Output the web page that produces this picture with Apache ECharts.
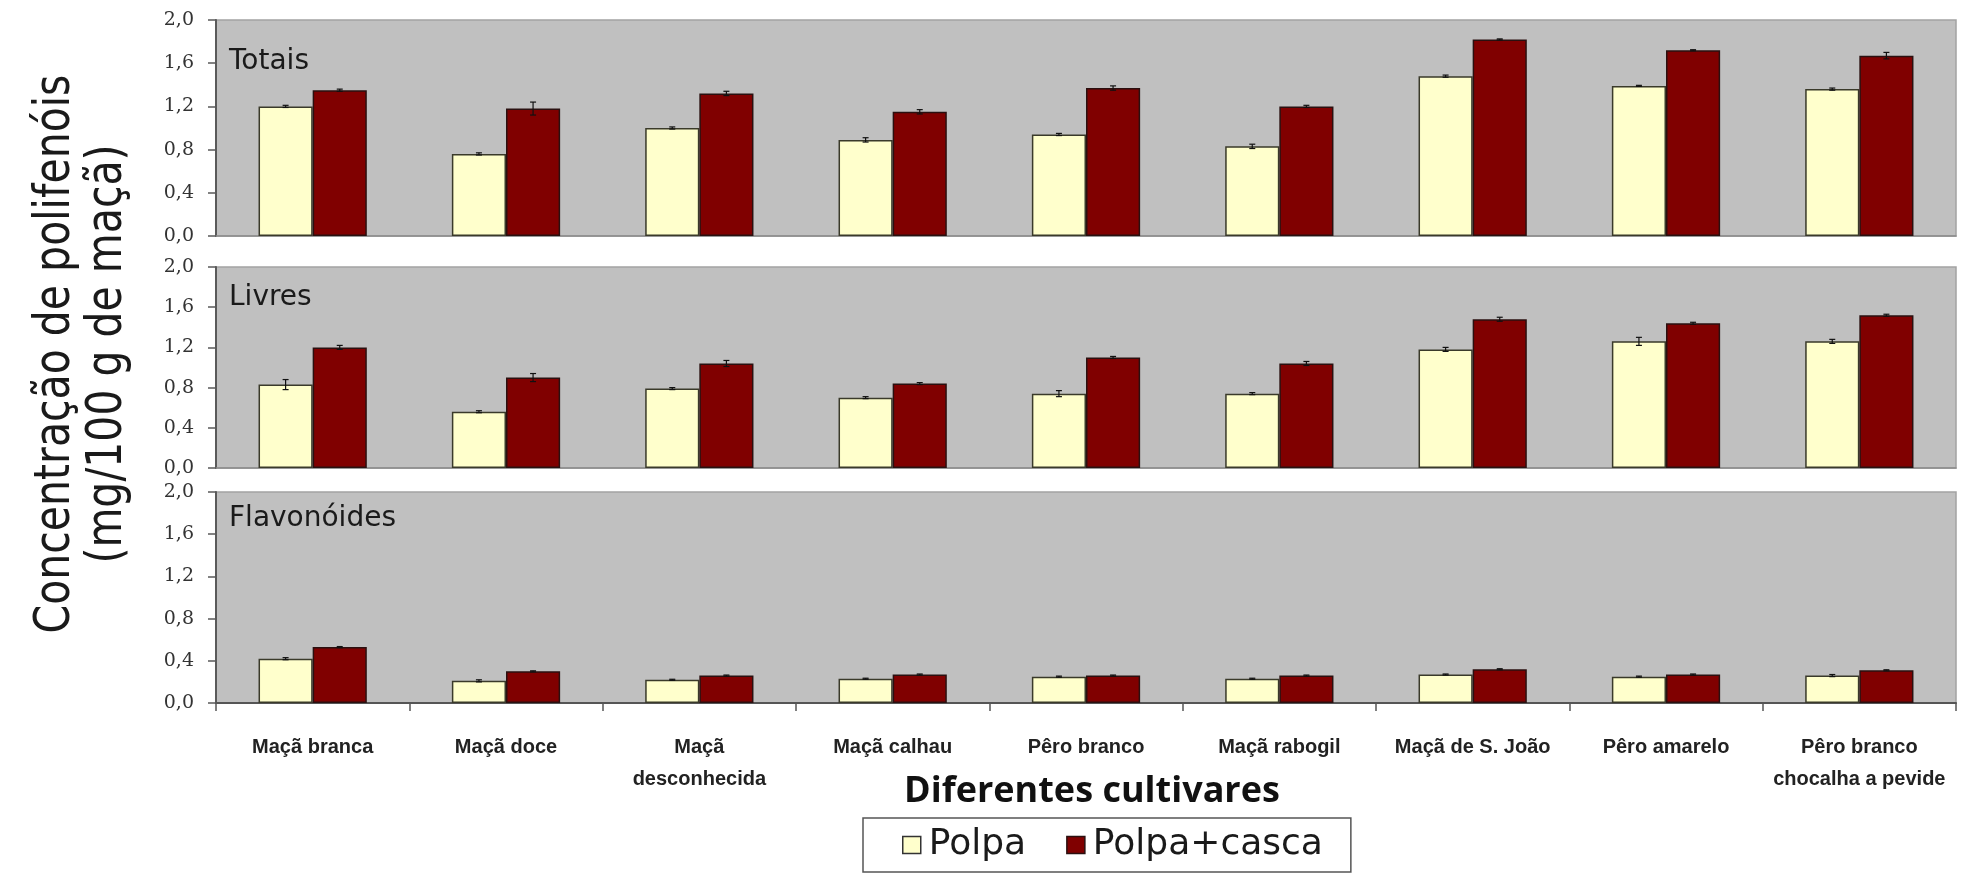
<!DOCTYPE html>
<html>
<head>
<meta charset="utf-8">
<script src="https://cdn.jsdelivr.net/npm/echarts@6/dist/echarts.min.js"></script>
<style>
  html, body { margin: 0; padding: 0; background: #ffffff; }
  #chart { width: 1966px; height: 874px; }
</style>
</head>
<body>
<div id="chart"></div>
<script>
// Cultivares (labels with a line break are drawn on two lines)
const categories = ['Maçã branca', 'Maçã doce', 'Maçã\ndesconhecida', 'Maçã calhau', 'Pêro branco',
  'Maçã rabogil', 'Maçã de S. João', 'Pêro amarelo', 'Pêro branco\nchocalha a pevide'];

const yTicks = [0, 0.4, 0.8, 1.2, 1.6, 2.0];

// Polifenóis totais
const totaisPolpa = [1.20, 0.76, 1.00, 0.89, 0.94, 0.83, 1.48, 1.39, 1.36];
const totaisCasca = [1.35, 1.18, 1.32, 1.15, 1.37, 1.20, 1.82, 1.72, 1.67];
const totaisPolpaErr = [0.01, 0.01, 0.01, 0.02, 0.01, 0.02, 0.01, 0.005, 0.01];
const totaisCascaErr = [0.01, 0.06, 0.02, 0.02, 0.02, 0.01, 0.005, 0.005, 0.03];

// Polifenóis livres
const livresPolpa = [0.83, 0.56, 0.79, 0.70, 0.74, 0.74, 1.18, 1.26, 1.26];
const livresCasca = [1.20, 0.90, 1.04, 0.84, 1.10, 1.04, 1.48, 1.44, 1.52];
const livresPolpaErr = [0.05, 0.01, 0.01, 0.01, 0.03, 0.01, 0.02, 0.04, 0.02];
const livresCascaErr = [0.02, 0.04, 0.03, 0.01, 0.01, 0.02, 0.02, 0.01, 0.01];

// Flavonóides
const flavPolpa = [0.42, 0.21, 0.22, 0.23, 0.25, 0.23, 0.27, 0.25, 0.26];
const flavCasca = [0.53, 0.30, 0.26, 0.27, 0.26, 0.26, 0.32, 0.27, 0.31];
const flavPolpaErr = [0.01, 0.01, 0.005, 0.005, 0.005, 0.005, 0.005, 0.005, 0.01];
const flavCascaErr = [0.005, 0.005, 0.005, 0.005, 0.005, 0.005, 0.005, 0.005, 0.005];

const panelNames = ['Totais', 'Livres', 'Flavonóides'];
const panels = [
  { polpa: totaisPolpa, casca: totaisCasca, polpaErr: totaisPolpaErr, cascaErr: totaisCascaErr },
  { polpa: livresPolpa, casca: livresCasca, polpaErr: livresPolpaErr, cascaErr: livresCascaErr },
  { polpa: flavPolpa, casca: flavCasca, polpaErr: flavPolpaErr, cascaErr: flavCascaErr }
];

const POLPA_COLOR = '#ffffcc';
const CASCA_COLOR = '#800000';
const CAT_GAP = 0.44;                 // barCategoryGap as a fraction
const gridLayout = [
  { top: 20, height: 216 },
  { top: 267, height: 201 },
  { top: 492, height: 211 }
];

const chart = echarts.init(document.getElementById('chart'), null, { renderer: 'canvas' });

const grids = [], xAxes = [], yAxes = [], series = [];

gridLayout.forEach((g, i) => {
  grids.push({
    left: 216, right: 10, top: g.top, height: g.height,
    show: true, backgroundColor: '#c0c0c0', borderColor: '#a2a2a2', borderWidth: 1.5
  });
  const last = i === gridLayout.length - 1;
  xAxes.push({
    type: 'category', gridIndex: i, data: categories,
    axisLine: { show: true, lineStyle: { color: last ? '#555555' : '#8a8a8a', width: last ? 2 : 1.5 } },
    axisTick: { show: last, length: 8, lineStyle: { color: '#555555', width: 1.5 } },
    axisLabel: {
      show: last, interval: 0, margin: 28,
      fontFamily: 'Liberation Sans, Arial, sans-serif', fontWeight: 'bold',
      fontSize: 20, lineHeight: 32, color: '#222222'
    },
    splitLine: { show: false }
  });
  yAxes.push({
    type: 'value', gridIndex: i, min: yTicks[0], max: yTicks[yTicks.length - 1], interval: 0.4,
    axisLine: { show: true, lineStyle: { color: '#5a5a5a', width: 2 } },
    axisTick: { show: true, length: 8, lineStyle: { color: '#5a5a5a', width: 1.5 } },
    axisLabel: {
      margin: 22, fontFamily: 'DejaVu Serif, serif', fontSize: 19, color: '#333333',
      formatter: v => v.toFixed(1).replace('.', ',')
    },
    splitLine: { show: false }
  });

  const p = panels[i];
  series.push({
    name: 'Polpa', type: 'bar', xAxisIndex: i, yAxisIndex: i, data: p.polpa,
    barGap: '0%', barCategoryGap: (CAT_GAP * 100) + '%',
    itemStyle: { color: POLPA_COLOR, borderColor: '#3a3a2a', borderWidth: 1.5 },
    emphasis: { disabled: true }
  });
  series.push({
    name: 'Polpa+casca', type: 'bar', xAxisIndex: i, yAxisIndex: i, data: p.casca,
    barGap: '0%', barCategoryGap: (CAT_GAP * 100) + '%',
    itemStyle: { color: CASCA_COLOR, borderColor: '#2a1010', borderWidth: 1.5 },
    emphasis: { disabled: true }
  });

  // error bars, one custom series per bar series
  [[p.polpa, p.polpaErr, -1], [p.casca, p.cascaErr, 1]].forEach(([vals, errs, side]) => {
    series.push({
      name: 'err', type: 'custom', xAxisIndex: i, yAxisIndex: i, z: 5, silent: true,
      data: vals.map((v, k) => [k, v, errs[k]]),
      encode: { x: 0, y: 1 },
      renderItem: (params, api) => {
        const idx = api.value(0), v = api.value(1), e = api.value(2);
        const band = api.size([1, 0])[0];
        const barW = band * (1 - CAT_GAP) / 2;
        const cx = api.coord([idx, v])[0] + side * barW / 2;
        const yTop = api.coord([idx, v + e])[1];
        const yBot = api.coord([idx, v - e])[1];
        const cap = 3;
        const style = { stroke: '#111111', lineWidth: 1.2 };
        return {
          type: 'group',
          children: [
            { type: 'line', shape: { x1: cx, y1: yTop, x2: cx, y2: yBot }, style },
            { type: 'line', shape: { x1: cx - cap, y1: yTop, x2: cx + cap, y2: yTop }, style },
            { type: 'line', shape: { x1: cx - cap, y1: yBot, x2: cx + cap, y2: yBot }, style }
          ]
        };
      }
    });
  });
});

const panelLabelY = [64, 300, 521];
const graphics = panelNames.map((name, i) => ({
  type: 'text', left: 229, top: panelLabelY[i] - 16, z: 10,
  style: { text: name, fontFamily: 'DejaVu Sans, sans-serif', fontSize: 28, fill: '#1a1a1a' }
}));

// vertical axis title on two lines, read from bottom to top
const yTitle = ['Concentração de polifenóis', '(mg/100 g de maçã)'];
const yTitleX = [56, 108];
yTitle.forEach((t, i) => {
  graphics.push({
    type: 'group', x: yTitleX[i], y: 354, scaleX: 1.2,
    children: [{
      type: 'text', x: 0, y: 0, rotation: Math.PI / 2,
      style: {
        text: t, fontFamily: 'DejaVu Sans, sans-serif', fontSize: 41, fill: '#1a1a1a',
        align: 'center', verticalAlign: 'middle'
      }
    }]
  });
});

graphics.push({
  type: 'text', x: 1092, y: 792,
  style: {
    text: 'Diferentes cultivares', fontFamily: 'Open Sans, sans-serif', fontWeight: 'bold',
    fontSize: 36, fill: '#111111', align: 'center', verticalAlign: 'middle'
  }
});

chart.setOption({
  animation: false,
  backgroundColor: '#ffffff',
  grid: grids,
  xAxis: xAxes,
  yAxis: yAxes,
  legend: {
    left: 863, top: 818, orient: 'horizontal', selectedMode: false,
    padding: [9, 28, 9, 39],
    borderColor: '#555555', borderWidth: 1.5, backgroundColor: '#ffffff',
    itemWidth: 18, itemHeight: 17, itemGap: 40,
    textStyle: { fontFamily: 'DejaVu Sans, sans-serif', fontSize: 36, color: '#1a1a1a', padding: [0, 0, 0, 3] },
    data: [
      { name: 'Polpa', icon: 'rect', itemStyle: { color: POLPA_COLOR, borderColor: '#333333', borderWidth: 1.5 } },
      { name: 'Polpa+casca', icon: 'rect', itemStyle: { color: CASCA_COLOR, borderColor: '#2a1010', borderWidth: 1.5 } }
    ]
  },
  graphic: graphics,
  series: series
});
</script>
</body>
</html>
